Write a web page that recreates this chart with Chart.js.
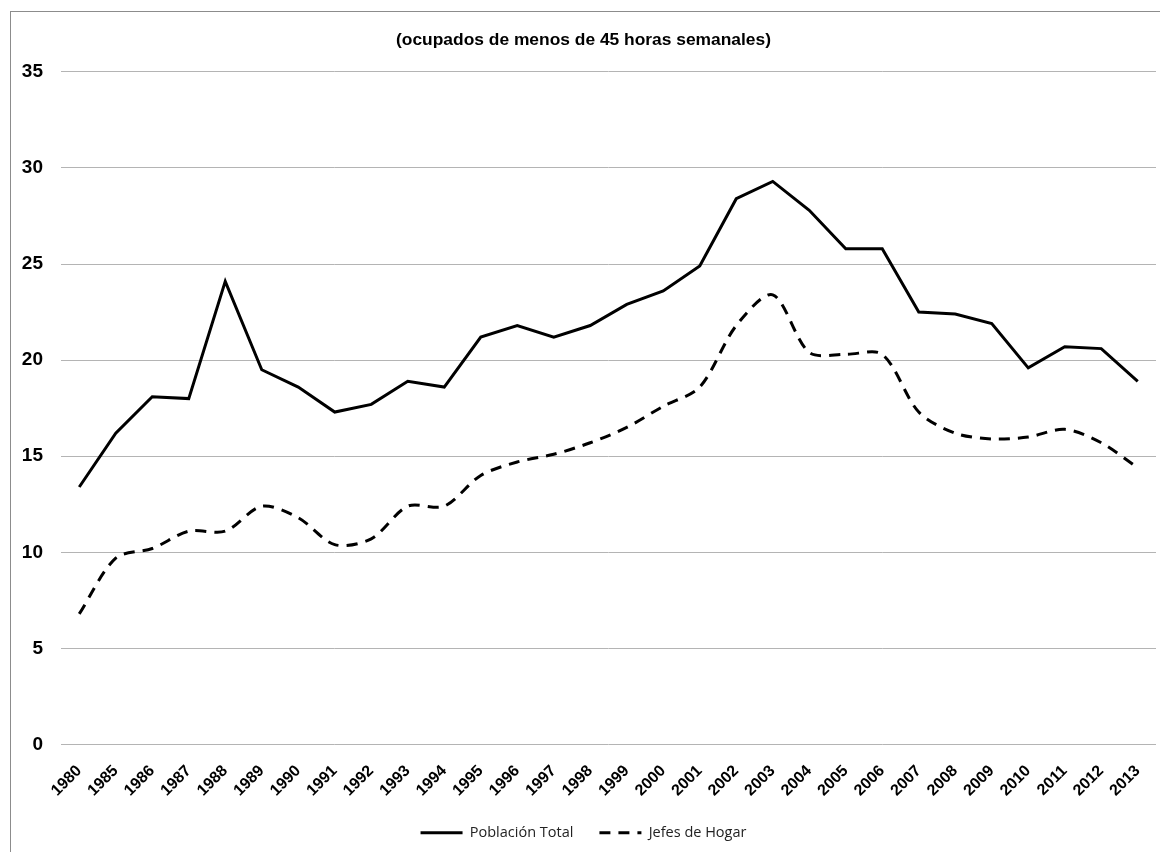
<!DOCTYPE html>
<html lang="es">
  <head>
    <meta charset="UTF-8" />
    <title>Ocupados de menos de 45 horas semanales</title>
    <script src="https://cdn.jsdelivr.net/npm/chart.js"></script>
    <style>
      body {
        margin: 0;
        width: 1160px;
        height: 852px;
        overflow: hidden;
        background: #fff;
        font-family: "Liberation Sans", Arial, sans-serif;
      }
      .frame {
        position: absolute;
        left: 10px;
        top: 11px;
        width: 1200px;
        height: 900px;
        border: 1px solid #8c8c8c;
      }
      .wrap {
        position: absolute;
        left: 11px;
        top: 12px;
        width: 1149px;
        height: 840px;
      }
    </style>
  </head>
  <body>
    <div class="frame"></div>
    <div class="wrap"><canvas id="chart"></canvas></div>

    <script>
      const years = ["1980", "1985", "1986", "1987", "1988", "1989", "1990", "1991", "1992",
        "1993", "1994", "1995", "1996", "1997", "1998", "1999", "2000", "2001", "2002",
        "2003", "2004", "2005", "2006", "2007", "2008", "2009", "2010", "2011", "2012", "2013"];

      const poblacionTotal = [13.4, 16.2, 18.1, 18.0, 24.1, 19.5, 18.6, 17.3, 17.7,
        18.9, 18.6, 21.2, 21.8, 21.2, 21.8, 22.9, 23.6, 24.9, 28.4,
        29.3, 27.8, 25.8, 25.8, 22.5, 22.4, 21.9, 19.6, 20.7, 20.6, 18.9];

      const jefesHogar = [6.8, 9.7, 10.2, 11.1, 11.1, 12.4, 11.8, 10.4, 10.7,
        12.4, 12.4, 14.0, 14.7, 15.1, 15.7, 16.5, 17.6, 18.6, 21.8,
        23.4, 20.4, 20.3, 20.3, 17.3, 16.2, 15.9, 16.0, 16.4, 15.7, 14.4];

      const titleText = "(ocupados de menos de 45 horas semanales)";

      // legend samples: keep the dataset's dash pattern when drawn as a line
      function legendLabels(chart) {
        const items = Chart.defaults.plugins.legend.labels.generateLabels(chart);
        items.forEach((it) => {
          const ds = chart.data.datasets[it.datasetIndex];
          it.lineDash = ds.borderDash || [];
          it.lineWidth = ds.borderWidth;
          it.strokeStyle = ds.borderColor;
        });
        return items;
      }

      const ctx = document.getElementById("chart").getContext("2d");
      new Chart(ctx, {
        type: "line",
        data: {
          labels: years,
          datasets: [
            {
              label: "Población Total",
              data: poblacionTotal,
              borderColor: "#000",
              backgroundColor: "#000",
              borderWidth: 3,
              pointRadius: 0,
              tension: 0,
              fill: false,
            },
            {
              label: "Jefes de Hogar",
              data: jefesHogar,
              borderColor: "#000",
              backgroundColor: "#000",
              borderWidth: 3,
              borderDash: [11, 8],
              pointRadius: 0,
              tension: 0.3,
              fill: false,
            },
          ],
        },
        options: {
          responsive: true,
          maintainAspectRatio: false,
          animation: false,
          layout: { padding: { top: 0, right: 4, left: 0, bottom: 2 } },
          plugins: {
            title: {
              display: true,
              text: titleText,
              color: "#000",
              font: { family: "Liberation Sans", size: 17.4, weight: "bold" },
              padding: { top: 18, bottom: 21 },
            },
            legend: {
              position: "bottom",
              labels: {
                usePointStyle: true,
                pointStyle: "line",
                pointStyleWidth: 42,
                color: "#222",
                font: { family: "Open Sans", size: 14.5 },
                padding: 26,
                generateLabels: legendLabels,
              },
            },
            tooltip: { enabled: false },
          },
          scales: {
            x: {
              offset: true,
              grid: { display: false, drawTicks: false },
              border: { display: false },
              ticks: {
                color: "#000",
                font: { family: "Liberation Sans", size: 16, weight: "bold" },
                minRotation: 45,
                maxRotation: 45,
                autoSkip: false,
                padding: 17,
              },
              afterFit: (scale) => {
                scale.height = 55;
                scale.paddingLeft = 0;
                scale.paddingRight = 0;
              },
            },
            y: {
              min: 0,
              max: 35,
              ticks: {
                stepSize: 5,
                color: "#000",
                font: { family: "Liberation Sans", size: 19, weight: "bold" },
                padding: 18,
              },
              grid: { color: "#b4b4b4", lineWidth: 1, drawTicks: false },
              border: { display: false },
              afterFit: (scale) => {
                scale.width = 50;
              },
            },
          },
        },
      });
    </script>
  </body>
</html>
